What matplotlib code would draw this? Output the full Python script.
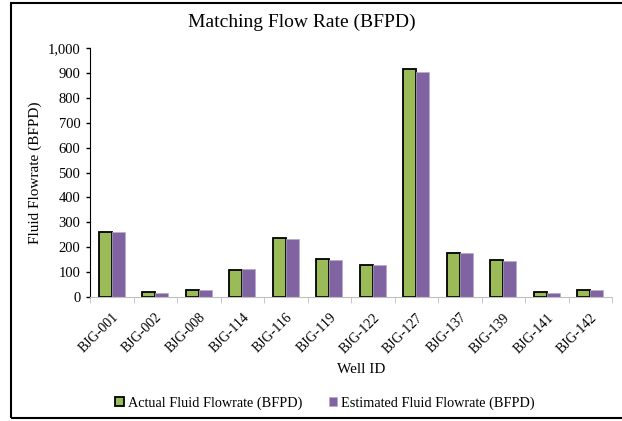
import numpy as np
from matplotlib import pyplot as plt
from matplotlib.patches import Rectangle
from matplotlib.ticker import FuncFormatter

plt.rcParams["font.family"] = ["Liberation Serif", "DejaVu Serif"]

wells = ["BJG-001", "BJG-002", "BJG-008", "BJG-114", "BJG-116", "BJG-119",
         "BJG-122", "BJG-127", "BJG-137", "BJG-139", "BJG-141", "BJG-142"]
actual_bfpd = [262, 20, 30, 110, 235, 152, 130, 915, 178, 148, 20, 30]
estimated_bfpd = [260, 17, 27, 111, 233, 150, 128, 903, 175, 145, 17, 27]

green = "#9bbb59"
purple = "#8064a2"

fig = plt.figure(figsize=(6.22, 4.21), dpi=100)
ax = fig.add_axes([0.1447, 0.2945, 0.8393, 0.5915])

# outer frame around the chart
fig.patches.append(Rectangle((11 / 622, 3 / 421), 1.0, 415 / 421,
                             transform=fig.transFigure, fill=False,
                             edgecolor="black", linewidth=1.5))

x = np.arange(len(wells))
w = 0.3
ax.bar(x - w / 2, actual_bfpd, w, color=green, edgecolor="black",
       linewidth=1.3, label="Actual Fluid Flowrate (BFPD)")
ax.bar(x + w / 2, estimated_bfpd, w, color=purple, edgecolor="#b9a8cf",
       linewidth=0.5, label="Estimated Fluid Flowrate (BFPD)")

ax.set_xlim(-0.5, len(wells) - 0.5)
ax.set_ylim(0, 1000)
ax.set_yticks(range(0, 1001, 100))
ax.yaxis.set_major_formatter(FuncFormatter(lambda v, p: f"{int(v):,}"))

ax.set_xticks(x)
ax.set_xticklabels(wells, rotation=45, ha="right", rotation_mode="anchor")
ax.set_xticks(np.arange(-0.5, len(wells)), minor=True)
ax.tick_params(axis="x", which="major", length=0, labelsize=10, pad=10)
ax.tick_params(axis="x", which="minor", length=4, color="#bfbfbf")
ax.tick_params(axis="y", length=3, width=1, labelsize=10.5, pad=4)

for s in ["top", "right"]:
    ax.spines[s].set_visible(False)
ax.spines["bottom"].set_color("#bfbfbf")
ax.spines["left"].set_color("black")

ax.set_ylabel("Fluid Flowrate (BFPD)", fontsize=11, labelpad=4)
ax.set_xlabel("Well ID", fontsize=11, labelpad=2)
ax.xaxis.set_label_coords(0.52, -0.265)

fig.text(0.486, 0.948, "Matching Flow Rate (BFPD)", ha="center", va="center",
         fontsize=14)

fig.legend(loc="center", bbox_to_anchor=(0.5225, 0.043), ncol=2, frameon=False,
           fontsize=10.3, handlelength=0.62, handleheight=0.62,
           handletextpad=0.25, columnspacing=1.85)

fig.savefig("out.png", dpi=100)
